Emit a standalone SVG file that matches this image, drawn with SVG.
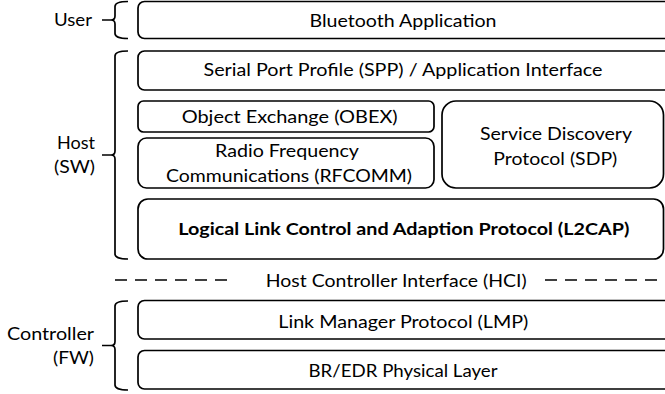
<svg xmlns="http://www.w3.org/2000/svg" width="665" height="394" viewBox="0 0 665 394">
<style>
.box{fill:#fff;stroke:#000;stroke-width:1.7}
.br{fill:none;stroke:#000;stroke-width:1.7}
.t{font-family:Lato,"Liberation Sans",sans-serif;font-size:17px;fill:#000;text-anchor:middle}
.tb{font-weight:bold}
.l{text-anchor:end}
.dash{stroke:#000;stroke-width:1.7;stroke-dasharray:12 8;fill:none}
</style>
<rect width="665" height="394" fill="#fff"/>
<g id="braces">
<path class="br" d="M128,1.5 Q115,1.5 115,6.5 V16 Q115,20 111,20 H102 M111,20 Q115,20 115,24 V33.5 Q115,38.5 128,38.5"/>
<path class="br" d="M128,51 Q115,51 115,56 V151 Q115,155 111,155 H102 M111,155 Q115,155 115,159 V254 Q115,259 128,259"/>
<path class="br" d="M128,301 Q115,301 115,306 V341.5 Q115,345.5 111,345.5 H102 M111,345.5 Q115,345.5 115,349.5 V385 Q115,390 128,390"/>
</g>
<g id="labels">
<text class="t l" x="92" y="26" textLength="38" lengthAdjust="spacingAndGlyphs">User</text>
<text class="t l" x="95" y="149" textLength="38" lengthAdjust="spacingAndGlyphs">Host</text>
<text class="t l" x="95" y="173" textLength="41" lengthAdjust="spacingAndGlyphs">(SW)</text>
<text class="t l" x="94" y="339.5" textLength="87" lengthAdjust="spacingAndGlyphs">Controller</text>
<text class="t l" x="94" y="363.5" textLength="41" lengthAdjust="spacingAndGlyphs">(FW)</text>
</g>
<g id="bt-app">
<rect class="box" x="138" y="1.5" width="534" height="37" rx="6.5"/>
<text class="t" x="403" y="27" textLength="187" lengthAdjust="spacingAndGlyphs">Bluetooth Application</text>
</g>
<g id="spp">
<rect class="box" x="138" y="51" width="534" height="39" rx="6.5"/>
<text class="t" x="403" y="76" textLength="399" lengthAdjust="spacingAndGlyphs">Serial Port Profile (SPP) / Application Interface</text>
</g>
<g id="obex">
<rect class="box" x="138" y="101" width="296" height="31" rx="5.5"/>
<text class="t" x="289.7" y="123" textLength="216" lengthAdjust="spacingAndGlyphs">Object Exchange (OBEX)</text>
</g>
<g id="rfcomm">
<rect class="box" x="138" y="138" width="296" height="50" rx="8.5"/>
<text class="t" x="287" y="157" textLength="144" lengthAdjust="spacingAndGlyphs">Radio Frequency</text>
<text class="t" x="289" y="182" textLength="246" lengthAdjust="spacingAndGlyphs">Communications (RFCOMM)</text>
</g>
<g id="sdp">
<rect class="box" x="442" y="101" width="221.5" height="87" rx="14"/>
<text class="t" x="556" y="140" textLength="152" lengthAdjust="spacingAndGlyphs">Service Discovery</text>
<text class="t" x="555.3" y="165" textLength="124" lengthAdjust="spacingAndGlyphs">Protocol (SDP)</text>
</g>
<g id="l2cap">
<rect class="box" x="138" y="199" width="525.5" height="60" rx="10"/>
<text class="t tb" x="403.8" y="235" textLength="451" lengthAdjust="spacingAndGlyphs">Logical Link Control and Adaption Protocol (L2CAP)</text>
</g>
<g id="hci">
<text class="t" x="396.2" y="287" textLength="261" lengthAdjust="spacingAndGlyphs">Host Controller Interface (HCI)</text>
</g>
<g id="lmp">
<rect class="box" x="138" y="300.5" width="534" height="38.5" rx="6.5"/>
<text class="t" x="403.3" y="328" textLength="250" lengthAdjust="spacingAndGlyphs">Link Manager Protocol (LMP)</text>
</g>
<g id="bredr">
<rect class="box" x="138" y="350.5" width="534" height="38.5" rx="6.5"/>
<text class="t" x="403" y="377" textLength="189" lengthAdjust="spacingAndGlyphs">BR/EDR Physical Layer</text>
</g>
<g id="connectors">
<path class="dash" d="M115,280 H235"/>
<path class="dash" d="M545,280 H665"/>
</g>
</svg>
